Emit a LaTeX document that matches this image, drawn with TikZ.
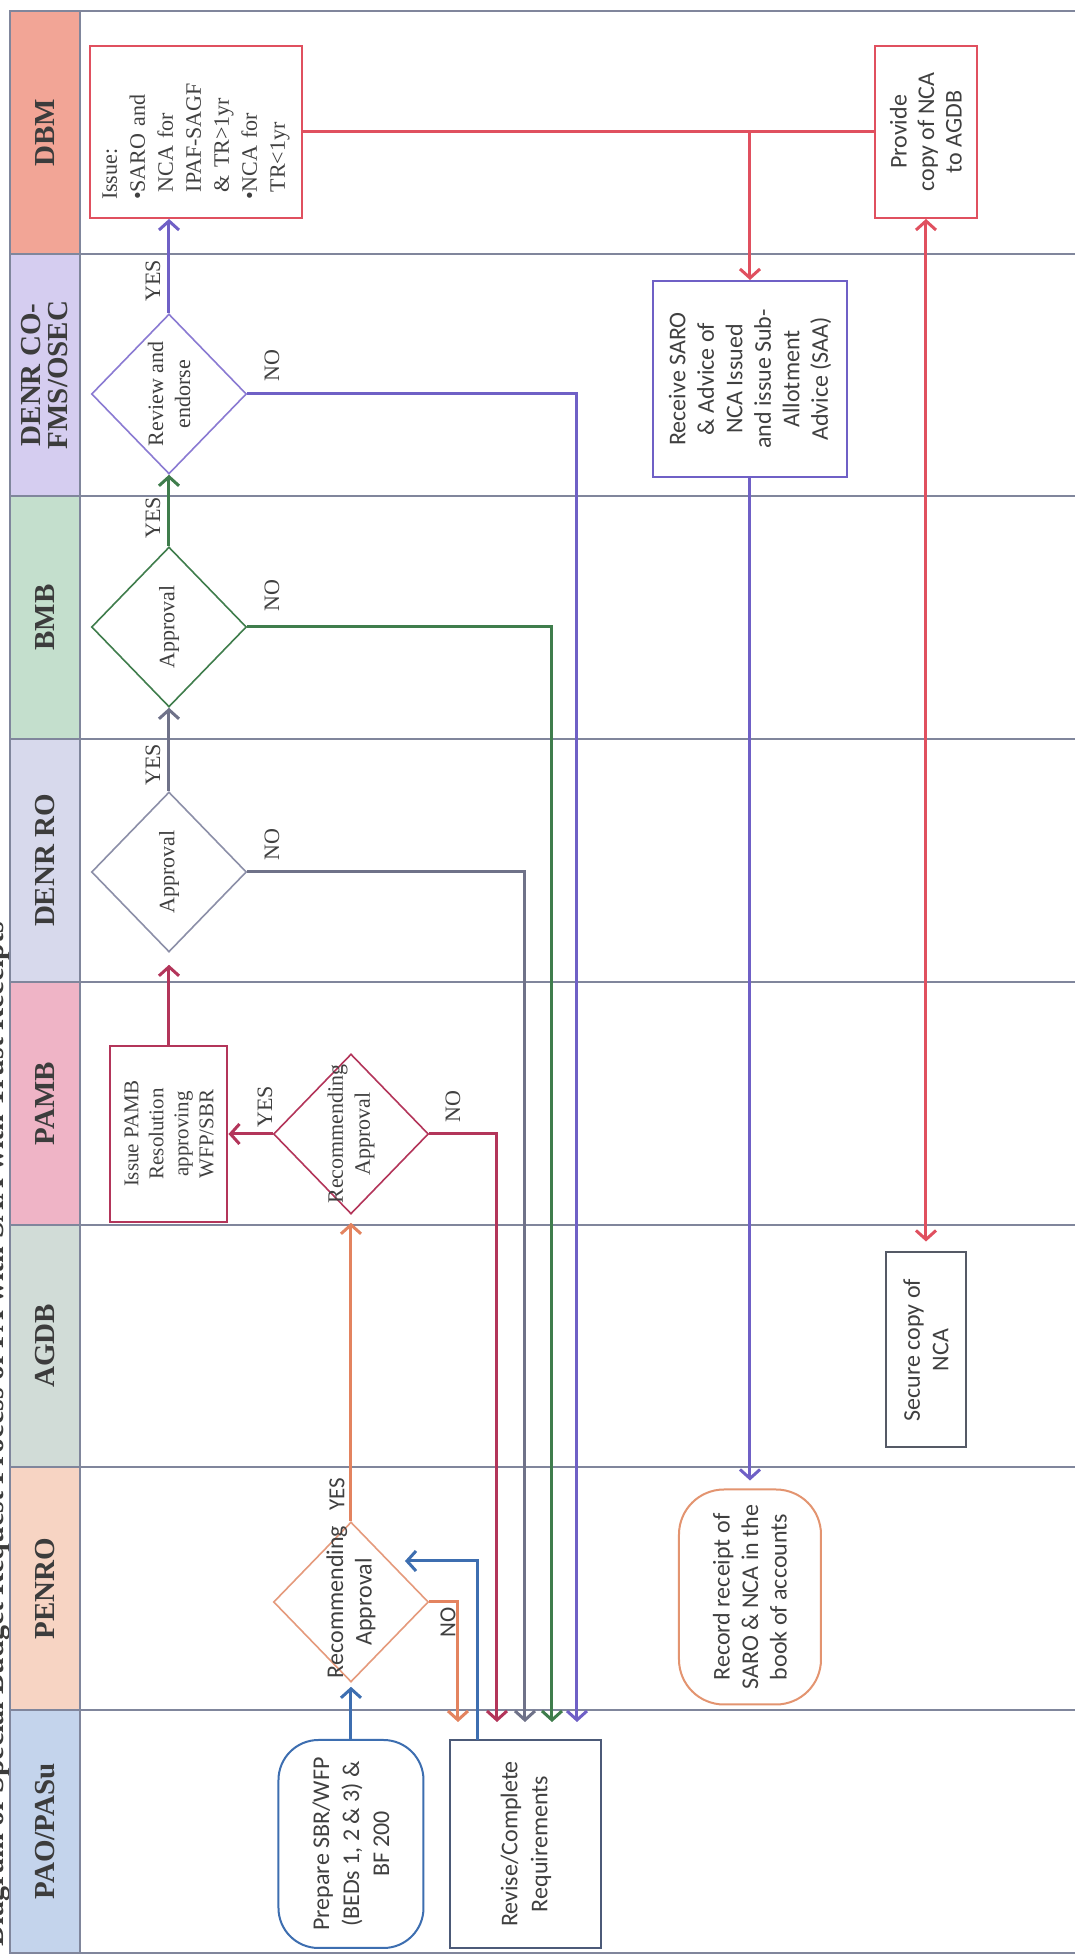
\documentclass[tikz,border=0pt]{standalone}
\usepackage{fontspec}
\setmainfont{Liberation Serif}
\newfontfamily\cbsans{Carlito}
\usetikzlibrary{shapes.geometric,arrows.meta}
\definecolor{lanegray}{HTML}{80869C}
\definecolor{hdrtext}{HTML}{3C3C3C}
\definecolor{fDBM}{HTML}{F2A596}
\definecolor{fCO}{HTML}{D5CDF0}
\definecolor{fBMB}{HTML}{C4DFCD}
\definecolor{fRO}{HTML}{D7D9EC}
\definecolor{fPAMB}{HTML}{EFB4C6}
\definecolor{fAGDB}{HTML}{D1DCD7}
\definecolor{fPENRO}{HTML}{F7D4C3}
\definecolor{fPAO}{HTML}{C4D4EC}
\definecolor{cRed}{HTML}{E0505F}
\definecolor{cCrim}{HTML}{B3355A}
\definecolor{cPur}{HTML}{6F60C6}
\definecolor{dPur}{HTML}{8A7AD2}
\definecolor{cGrn}{HTML}{3F7D4C}
\definecolor{cGry}{HTML}{6F7289}
\definecolor{dGry}{HTML}{8C8FA8}
\definecolor{cOrg}{HTML}{E3835F}
\definecolor{dOrg}{HTML}{E59A7C}
\definecolor{cBlu}{HTML}{3D6EB0}
\definecolor{cSec}{HTML}{555A66}
\definecolor{cRev}{HTML}{4C5A78}
\definecolor{cRec}{HTML}{E39470}
\definecolor{txt}{HTML}{404040}
\tikzset{
  lane/.style={draw=lanegray, line width=1.2pt},
  hdr/.style={draw=lanegray, line width=1.2pt, text=hdrtext, align=center, inner sep=0pt,
     minimum height=70pt, font=\fontsize{29}{27}\selectfont\bfseries},
  box/.style={draw, line width=2pt, align=center, inner sep=0pt, text=txt},
  dec/.style={diamond, draw, line width=1.6pt, inner sep=0pt, minimum width=160pt, minimum height=155pt},
  sftext/.style={font=\cbsans\fontsize{24}{28.5}\selectfont},
  rmtext/.style={font=\fontsize{22}{27}\selectfont},
  conn/.style={line width=3pt, -{Straight Barb[length=9pt,width=20pt]}},
  dbl/.style={line width=3pt, {Straight Barb[length=9pt,width=20pt]}-{Straight Barb[length=9pt,width=20pt]}},
  flowline/.style={line width=3pt},
  yn/.style={text=txt, inner sep=0pt, font=\fontsize{22}{24}\selectfont},
  ynsf/.style={text=txt, inner sep=0pt, font=\cbsans\fontsize{23}{24}\selectfont},
}
\begin{document}
\begin{tikzpicture}[x=1pt,y=1pt]
\begin{scope}[rotate=90, transform shape]
\useasboundingbox (0,0) rectangle (1955,1075);
\fill[white] (0,0) rectangle (1955,1075);
% title (cut by the page edge)
\begin{scope}
\clip (0,0) rectangle (1955,1075);
\node[anchor=base west, inner sep=0pt, text=hdrtext, font=\fontsize{30}{30}\selectfont\bfseries] (title) at (8,1071) {Diagram of Special Budget Request Process of PA with SAA with Trust Receipts};
\end{scope}
% lane headers
\node[hdr, fill=fPAO, minimum width=243pt] (hPAO) at (123.5,1030) {PAO/PASu};
\node[hdr, fill=fPENRO, minimum width=243pt] (hPENRO) at (366.5,1030) {PENRO};
\node[hdr, fill=fAGDB, minimum width=242pt] (hAGDB) at (609,1030) {AGDB};
\node[hdr, fill=fPAMB, minimum width=243pt] (hPAMB) at (851.5,1030) {PAMB};
\node[hdr, fill=fRO, minimum width=243pt] (hRO) at (1094.5,1030) {DENR RO};
\node[hdr, fill=fBMB, minimum width=243pt] (hBMB) at (1337.5,1030) {BMB};
\node[hdr, fill=fCO, minimum width=242pt] (hCO) at (1580,1030) {DENR CO-\\FMS/OSEC};
\node[hdr, fill=fDBM, minimum width=243pt] (hDBM) at (1822.5,1030) {DBM};
% lane lines
\foreach \u in {2,245,488,730,973,1216,1459,1701,1944} \draw[lane] (\u,0) -- (\u,995);
% DBM
\node[box, draw=cRed, minimum width=172pt, minimum height=212pt, text width=136pt, align=left,
  font=\fontsize{22}{28}\selectfont] (issue) at (1823,879)
  {Issue:\\\textbullet SARO and\\\phantom{\textbullet}NCA for\\\phantom{\textbullet}IPAF-SAGF\\\phantom{\textbullet}\& TR>1yr\\\textbullet NCA for\\\phantom{\textbullet}TR<1yr};
\node[box, draw=cRed, sftext, font=\cbsans\fontsize{24}{27.5}\selectfont, minimum width=172pt, minimum height=102pt] (provide) at (1823,149) {Provide\\copy of NCA\\to AGDB};
% DENR CO
\node[dec, draw=dPur, label={[rmtext, text=txt, align=center]center:Review and\\endorse}] (review) at (1561,906) {};
\node[box, draw=cPur, sftext, minimum width=196pt, minimum height=194pt] (receive) at (1576,325)
  {Receive SARO\\\& Advice of\\NCA Issued\\and issue Sub-\\Allotment\\Advice (SAA)};
% BMB
\node[dec, draw=cGrn, label={[rmtext, text=txt]center:Approval}] (bmbd) at (1328,906) {};
% DENR RO
\node[dec, draw=dGry, label={[rmtext, text=txt]center:Approval}] (rod) at (1083,906) {};
% PAMB
\node[box, draw=cCrim, font=\fontsize{21}{25}\selectfont, minimum width=176pt, minimum height=117pt] (pambbox) at (821,906)
  {Issue PAMB\\Resolution\\approving\\WFP/SBR};
\node[dec, draw=cCrim, label={[rmtext, text=txt, align=center]center:Recommending\\Approval}] (pambd) at (821,724) {};
% AGDB
\node[box, draw=cSec, sftext, minimum width=195pt, minimum height=80pt] (secure) at (605,149) {Secure copy of\\NCA};
% PENRO
\node[dec, draw=dOrg, label={[sftext, text=txt, align=center]center:Recommending\\Approval}] (penrod) at (353,724) {};
\node[box, draw=cRec, sftext, rounded corners=45pt, minimum width=215pt, minimum height=142pt] (record) at (358,325)
  {Record receipt of\\SARO \& NCA in the\\book of accounts};
% PAO/PASu
\node[box, draw=cBlu, sftext, font=\cbsans\fontsize{24}{30}\selectfont, rounded corners=40pt, minimum width=208pt, minimum height=145pt] (prepare) at (111,724)
  {Prepare SBR/WFP\\(BEDs 1, 2 \& 3) \&\\BF 200};
\node[box, draw=cRev, sftext, font=\cbsans\fontsize{24}{30}\selectfont, minimum width=208pt, minimum height=151pt] (revise) at (111,549)
  {Revise/Complete\\Requirements};
% connector end points on the Revise box side
\coordinate (inO) at (215,617);
\coordinate (outB) at (215,597);
\coordinate (inR) at (215,578);
\coordinate (inY) at (215,550);
\coordinate (inG) at (215,523);
\coordinate (inP) at (215,498);
\coordinate (tipB) at (394,670);
% connectors
\draw[flowline, draw=cRed] (issue.south) -- (provide.north);
\coordinate (br) at (issue.south |- receive.east);
\draw[conn, draw=cRed] (br) -- (receive.east);
\draw[dbl, draw=cRed, shorten >=10pt] (provide.west) -- (secure.east);
\draw[conn, draw=cPur] (review.east) -- (review.east -| issue.west);
\draw[conn, draw=cPur, shorten >=18pt] (review.south) |- (inP);
\draw[conn, draw=cGrn] (bmbd.east) -- (review.west);
\draw[conn, draw=cGrn, shorten >=18pt] (bmbd.south) |- (inG);
\draw[conn, draw=cGry] (rod.east) -- (bmbd.west);
\draw[conn, draw=cGry, shorten >=18pt] (rod.south) |- (inY);
\draw[conn, draw=cCrim, shorten >=12pt] (pambbox.east) -- (rod.west);
\draw[conn, draw=cCrim] (pambd.north) -- (pambbox.south);
\draw[conn, draw=cCrim, shorten >=18pt] (pambd.south) |- (inR);
\draw[conn, draw=cOrg, shorten >=8pt] (penrod.east) -- (pambd.west);
\draw[conn, draw=cOrg, shorten >=18pt] (penrod.south) |- (inO);
\draw[conn, draw=cBlu, shorten >=4pt] (prepare.east) -- (penrod.west);
\draw[conn, draw=cBlu] (outB) -| (tipB);
\draw[conn, draw=cPur, shorten >=8pt] (receive.west) -- (record.east);
% YES / NO labels
\node[yn] (yRev) at (1674,922) {YES};
\node[yn] (nRev) at (1589,803) {NO};
\node[yn] (yBMB) at (1437,922) {YES};
\node[yn] (nBMB) at (1359,803) {NO};
\node[yn] (yRO) at (1190,922) {YES};
\node[yn] (nRO) at (1110,803) {NO};
\node[yn] (yPAMB) at (848,810) {YES};
\node[yn] (nPAMB) at (848,622) {NO};
\node[ynsf] (yPEN) at (461,738) {YES};
\node[ynsf] (nPEN) at (333,627) {NO};
\end{scope}
\end{tikzpicture}
\end{document}
